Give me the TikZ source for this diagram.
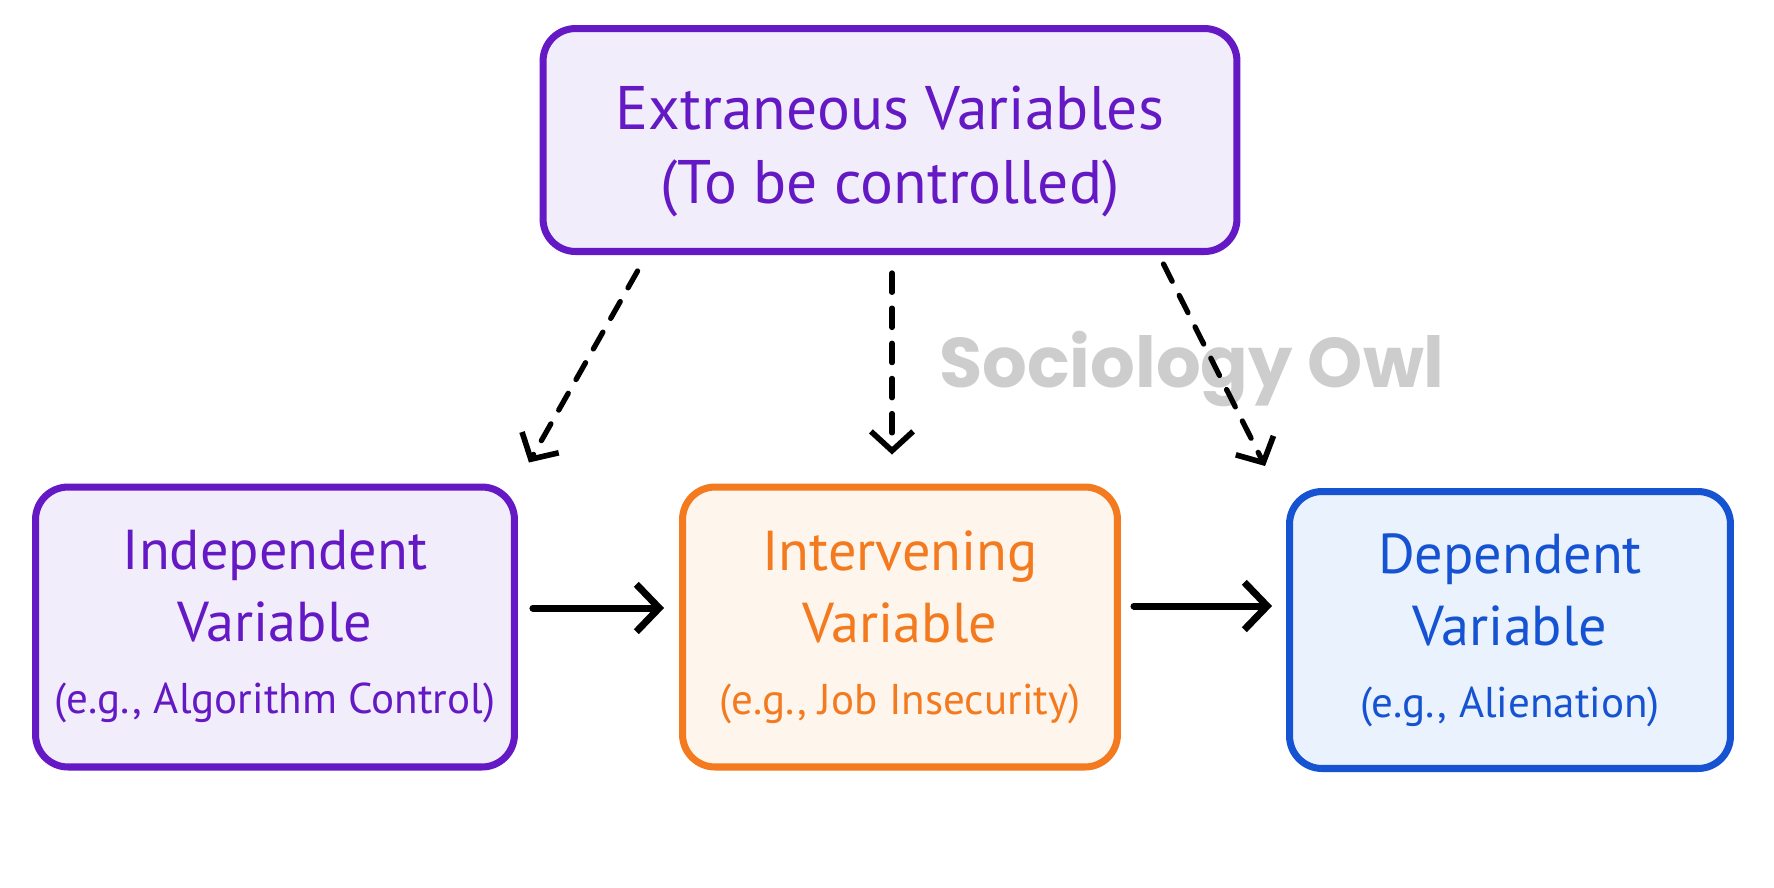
\documentclass[tikz,border=0pt]{standalone}
\usepackage{fontspec}
\setmainfont{PT Sans}
\newfontfamily\wmfont{Poppins}
\usetikzlibrary{arrows.meta,calc}
\definecolor{purp}{HTML}{6419C4}
\definecolor{purpfill}{HTML}{F2EDFB}
\definecolor{orng}{HTML}{F37A1F}
\definecolor{orngfill}{HTML}{FEF5EC}
\definecolor{blu}{HTML}{1553D2}
\definecolor{blufill}{HTML}{E9F2FD}
\definecolor{wm}{HTML}{CDCDCD}
\newcommand{\eg}[1]{{\fontsize{24.5}{41}\selectfont #1}}
\tikzset{
  box/.style={draw, line width=4pt, rounded corners=0.65cm, align=center, inner sep=0pt},
  toptxt/.style={font=\fontsize{35}{42}\selectfont},
  lowtxt/.style={font=\fontsize{32}{41}\selectfont},
  solidarrow/.style={line width=4pt, line cap=round, -{Straight Barb[length=13pt,width=27pt,line width=4pt]}},
  dasharrow/.style={line width=3pt, line cap=round, dash pattern=on 11pt off 9pt, -{Straight Barb[length=11pt,width=24pt,line width=3.2pt]}}
}
\begin{document}
\begin{tikzpicture}[x=0.02cm,y=-0.02cm]
\useasboundingbox[fill=white] (0,0) rectangle (1774,887);
\node[wm, font=\wmfont\bfseries\fontsize{40}{44}\selectfont] (wmk) at (1192,369) {Sociology Owl};
\node[box, draw=purp, fill=purpfill, text=purp, toptxt, minimum width=13.88cm, minimum height=4.46cm] (top) at (890,140)
  {\rule{0pt}{38pt}Extraneous Variables\\(To be controlled)};
\node[box, draw=purp, fill=purpfill, text=purp, lowtxt, minimum width=9.58cm, minimum height=5.6cm] (left) at (275,627)
  {Independent\\Variable\\\eg{(e.g., Algorithm Control)}};
\node[box, draw=orng, fill=orngfill, text=orng, lowtxt, minimum width=8.7cm, minimum height=5.6cm] (mid) at (900,627)
  {Intervening\\Variable\\\eg{(e.g., Job Insecurity)}};
\node[box, draw=blu, fill=blufill, text=blu, lowtxt, minimum width=8.82cm, minimum height=5.54cm] (right) at (1510,630)
  {Dependent\\Variable\\\eg{(e.g., Alienation)}};
\draw[solidarrow] ($(left.east)+(15,-19)$) -- ($(mid.west)+(-15,-19)$);
\draw[solidarrow] ($(mid.east)+(13,-21)$) -- ($(right.west)+(-14,-24)$);
\draw[dasharrow] ($(top.south west)+(98,16)$) -- ($(left.north east)+(11,-21)$);
\draw[dasharrow] ($(top.south)+(2,18)$) -- ($(mid.north)+(-8,-29)$);
\draw[dasharrow] ($(top.south east)+(-77,9)$) -- ($(right.north west)+(-21,-22)$);
\end{tikzpicture}
\end{document}
